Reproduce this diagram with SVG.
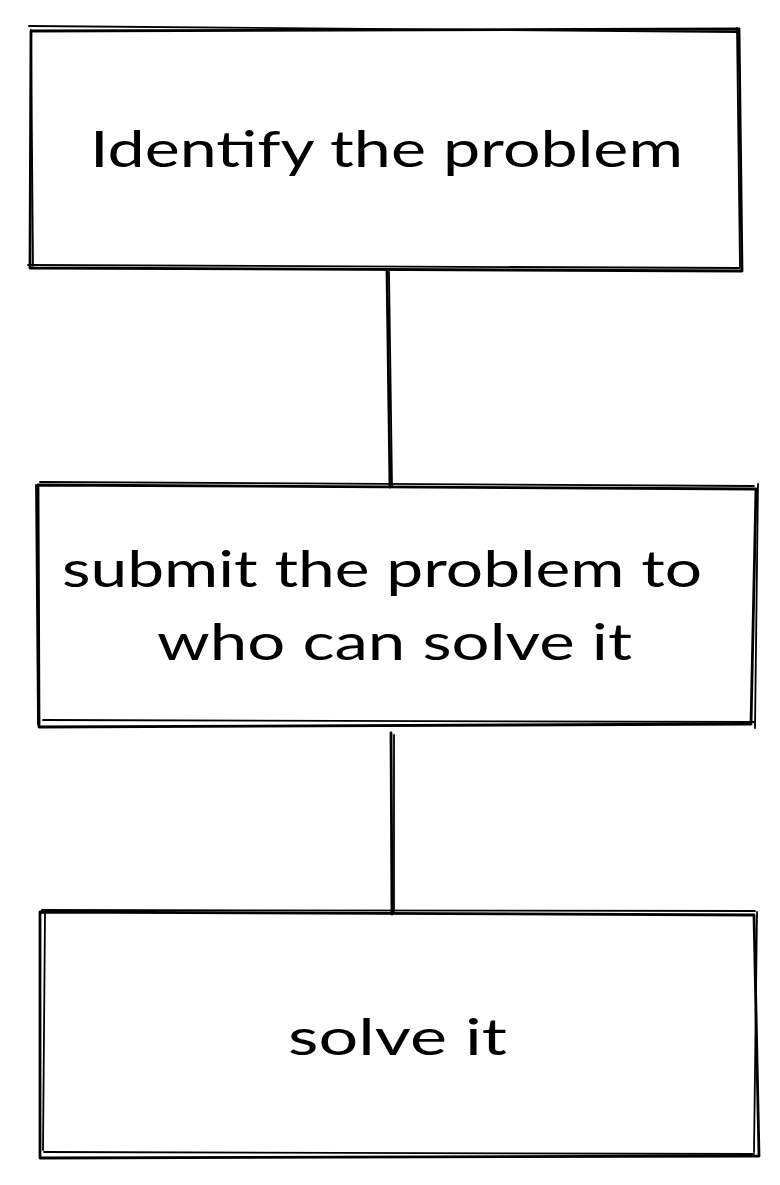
<svg xmlns="http://www.w3.org/2000/svg" width="780" height="1185" viewBox="0 0 780 1185">
<style>
.s{fill:none;stroke:#000;stroke-width:2.8;stroke-linecap:round;stroke-linejoin:round}
.s2{fill:none;stroke:#000;stroke-width:1.8;stroke-linecap:round}
.t{font-family:Lato,"Noto Sans","Liberation Sans",sans-serif;font-size:50px;fill:#000;text-anchor:start}
</style>
<rect width="780" height="1185" fill="#fff"/>
<g id="connectors">
<path class="s" d="M387 270 L390 487"/>
<path class="s2" d="M389 272 L392 485"/>
<path class="s" d="M391 733 L392 914"/>
<path class="s2" d="M394 735 L394 912"/>
</g>
<g id="node1">
<path class="s" d="M31 31 L739 29 L742 271 L30 268 Z"/>
<path class="s2" d="M29 26 L737 32 M737 28 L740 268 M28 265 L740 268 M31 30 L33 266"/>
<text class="t" x="90" y="167" textLength="593" lengthAdjust="spacingAndGlyphs">Identify the problem</text>
</g>
<g id="node2">
<path class="s" d="M38 485 L756 489 L751 724 L39 727 Z"/>
<path class="s2" d="M40 482 L754 486 M758 484 L755 728 M43 720 L755 722 M36 485 L38 724"/>
<text class="t" x="62" y="587" textLength="640" lengthAdjust="spacingAndGlyphs">submit the problem to</text>
<text class="t" x="157" y="660" textLength="475" lengthAdjust="spacingAndGlyphs">who can solve it</text>
</g>
<g id="node3">
<path class="s" d="M40 912 L754 915 L759 1156 L40 1158 Z"/>
<path class="s2" d="M42 910 L755 911 M757 912 L754 1152 M44 1152 L754 1154 M45 914 L43 1150"/>
<text class="t" x="288" y="1055" textLength="219" lengthAdjust="spacingAndGlyphs">solve it</text>
</g>
</svg>
